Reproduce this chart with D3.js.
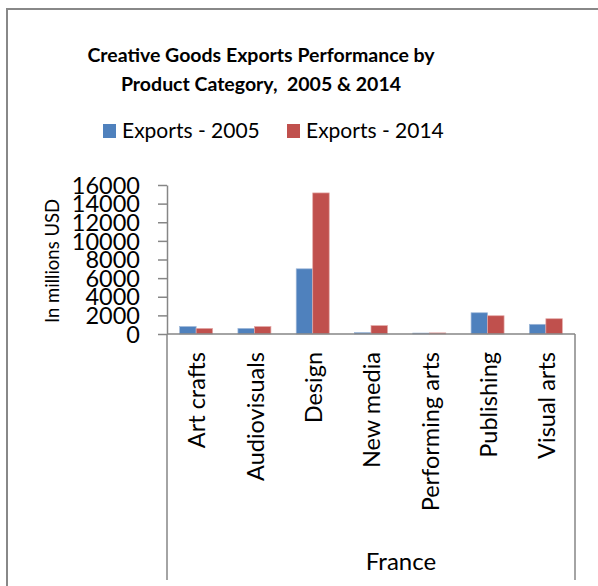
<!DOCTYPE html>
<html><head><meta charset="utf-8">
<script src="https://cdn.jsdelivr.net/npm/d3@7"></script>
<style>body{margin:0;background:#fff;} svg{display:block;} text{font-family:Lato,"Open Sans",sans-serif;fill:#000;}</style>
</head><body>
<svg id="c" width="598" height="586"></svg>
<script>
const categories = ["Art crafts","Audiovisuals","Design","New media","Performing arts","Publishing","Visual arts"];
const series = ["Exports - 2005","Exports - 2014"];
const exports2005 = [800, 600, 7000, 150, 100, 2280, 1040];
const exports2014 = [600, 800, 15150, 900, 120, 1960, 1640];
const yTicks = [0,2000,4000,6000,8000,10000,12000,14000,16000];
const colors = ["#4F81BD","#C0504D"];
const edge = ["#9fb8d9","#e3a9a7"];

const svg = d3.select("#c");
// frame
svg.append("rect").attr("x",7).attr("y",9).attr("width",640).attr("height",640)
  .attr("fill","#fff").attr("stroke","#888").attr("stroke-width",2);

// title
const title = svg.append("text").attr("text-anchor","middle").attr("font-weight","bold").attr("font-size",19.5);
title.append("tspan").attr("x",261).attr("y",62).text("Creative Goods Exports Performance by");
title.append("tspan").attr("x",261).attr("y",91).attr("xml:space","preserve").text("Product Category,  2005 & 2014");

// legend
const lg = [{x:103,tx:122},{x:287,tx:306}];
series.forEach((s,i)=>{
  svg.append("rect").attr("x",lg[i].x).attr("y",124).attr("width",13).attr("height",14).attr("fill",colors[i]);
  svg.append("text").attr("x",lg[i].tx).attr("y",138).attr("font-size",21).text(s);
});

const y = d3.scaleLinear().domain([0,16000]).range([334,185]);
const x0 = d3.scaleBand().domain(categories).range([167,575]);
const bw = x0.bandwidth();
const x1 = d3.scaleBand().domain(series).range([bw/2-16.5, bw/2+16.5]);

// bars
const data = categories.map((c,i)=>({c, vals:[exports2005[i], exports2014[i]]}));
const g = svg.append("g");
data.forEach(d=>{
  d.vals.forEach((v,j)=>{
    g.append("rect").attr("x",x0(d.c)+x1(series[j])).attr("y",y(v))
      .attr("width",x1.bandwidth()).attr("height",y(0)-y(v))
      .attr("fill",colors[j]).attr("stroke",edge[j]).attr("stroke-width",0.7);
  });
});

// y axis
const ya = svg.append("g").attr("transform","translate(167,0)")
  .call(d3.axisLeft(y).tickValues(yTicks).tickSize(9).tickSizeOuter(0).tickFormat(d3.format("d")));
ya.select(".domain").attr("stroke","#868686").attr("stroke-width",1.5);
ya.selectAll(".tick line").attr("stroke","#868686").attr("stroke-width",1.5);
ya.selectAll(".tick text").attr("font-size",23.5).attr("x",-27).attr("dy","0.35em")
  .attr("font-family","Lato,sans-serif").attr("fill","#000");

// x axis line
svg.append("line").attr("x1",167).attr("x2",575).attr("y1",334).attr("y2",334)
  .attr("stroke","#868686").attr("stroke-width",1.5);
// multi-level boundaries
[167,575].forEach(xx=>{
  svg.append("line").attr("x1",xx).attr("x2",xx).attr("y1",334).attr("y2",580)
    .attr("stroke","#868686").attr("stroke-width",1.5);
});

// category labels
categories.forEach(c=>{
  svg.append("text").attr("transform",`translate(${x0(c)+bw/2+1},352) rotate(-90)`)
    .attr("text-anchor","end").attr("dy","0.35em").attr("font-size",23.5).text(c);
});

svg.append("text").attr("x",401).attr("y",570).attr("text-anchor","middle").attr("font-size",24).text("France");

// y title
svg.append("text").attr("transform","translate(53,261) rotate(-90)").attr("text-anchor","middle")
  .attr("dy","0.35em").attr("font-size",18.5).text("In millions USD");
</script></body></html>
